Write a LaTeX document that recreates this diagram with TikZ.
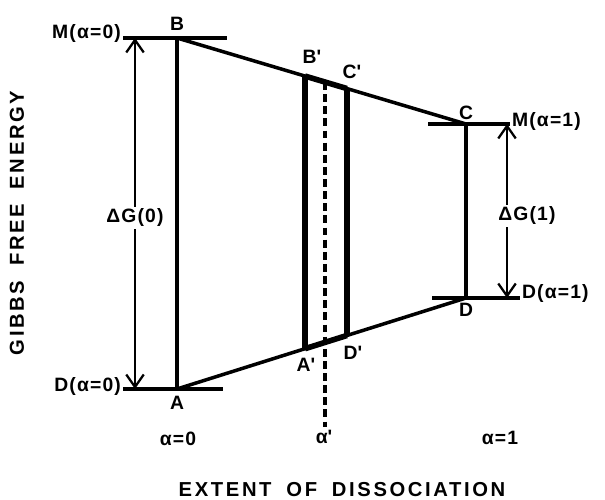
\documentclass[tikz,border=0pt]{standalone}
\usepackage{fontspec}
\setmainfont{Liberation Sans}
\newfontfamily\labfont[LetterSpace=6]{Liberation Sans}
\newfontfamily\widefont[LetterSpace=13, WordSpace=1.8]{Liberation Sans}
\usetikzlibrary{arrows.meta, positioning, calc}

\begin{document}
\begin{tikzpicture}[
every node/.style={font=\labfont\bfseries\fontsize{11}{13}\selectfont, inner sep=1pt},
level/.style={line width=2pt},
wall/.style={line width=3.2pt},
gap/.style={line width=1.3pt, -{Straight Barb[length=2.5mm, width=3.5mm]}},
axis/.style={font=\widefont\bfseries\fontsize{11.5}{14}\selectfont}
]
\useasboundingbox (0,0) rectangle (12.1,10);

% state points
\coordinate (B) at (3.54,9.24);
\coordinate (A) at (3.54,2.22);
\coordinate (C) at (9.32,7.52);
\coordinate (D) at (9.32,4.04);

\coordinate (Bp) at ($(B)!0.443!(C)$);
\coordinate (Cp) at ($(B)!0.588!(C)$);
\coordinate (Ap) at ($(A)!0.443!(D)$);
\coordinate (Dp) at ($(A)!0.588!(D)$);
\coordinate (Ep) at ($(B)!0.512!(C)$);
\coordinate (Fp) at (Ep |- 0,1.46);

% level ticks
\coordinate (M0l) at (2.46,9.24);
\coordinate (M0r) at (4.54,9.24);
\coordinate (D0l) at (2.46,2.22);
\coordinate (D0r) at (4.46,2.22);
\coordinate (M1l) at (8.56,7.52);
\coordinate (M1r) at (10.2,7.52);
\coordinate (D1l) at (8.64,4.04);
\coordinate (D1r) at (10.4,4.04);

\draw[level] (M0l) -- (M0r);
\draw[level] (D0l) -- (D0r);
\draw[level] (M1l) -- (M1r);
\draw[level] (D1l) -- (D1r);

\draw[level] (B) -- (C);
\draw[level] (A) -- (D);
\draw[level] (A) -- (B);
\draw[level] (D) -- (C);

\draw[wall] (Bp) -- (Cp);
\draw[wall] (Ap) -- (Dp);
\draw[wall] (Ap) -- (Bp);
\draw[wall] (Dp) -- (Cp);
\draw[line width=2pt, dash pattern=on 4.5pt off 2.4pt] (Ep) -- (Fp);

% point labels
\node (lB) [above=3pt of B] {B};
\node (lA) [below=3pt of A] {A};
\node (lC) [above=1pt of C] {C};
\node (lD) [below=2pt of D] {D};
\node (lBp) at (6.24,8.86) {B\textquotesingle};
\node (lCp) at (7.04,8.56) {C\textquotesingle};
\node (lAp) at (6.12,2.7) {A\textquotesingle};
\node (lDp) at (7.06,2.94) {D\textquotesingle};

% level labels
\node (M0) [anchor=east] at ($(M0l)+(0,0.08)$) {M(α=0)};
\node (D0) [anchor=east] at ($(D0l)+(0,0.05)$) {D(α=0)};
\node (M1) [anchor=west] at ($(M1r)+(0,0.04)$) {M(α=1)};
\node (D1) [anchor=west] at ($(D1r)+(0,0.08)$) {D(α=1)};

% energy gaps
\node (G0) at (2.7,5.64) {ΔG(0)};
\node (G1) at (10.54,5.68) {ΔG(1)};
\coordinate (G0t) at (2.7,9.24);
\coordinate (G0b) at (2.7,2.22);
\coordinate (G1t) at (10.14,7.52);
\coordinate (G1b) at (10.14,4.04);
\draw[gap] (G0) -- (G0t);
\draw[gap] (G0) -- (G0b);
\draw[gap] (G1.north -| G1t) -- (G1t);
\draw[gap] (G1.south -| G1b) -- (G1b);

% extent values
\node (a0) at (3.56,1.22) {α=0};
\node (ap) at (6.48,1.26) {α\textquotesingle};
\node (a1) at (10.0,1.24) {α=1};

% axes
\node[axis] (xlab) at (6.84,0.2) {EXTENT OF DISSOCIATION};
\node[axis, rotate=90] (ylab) at (0.34,5.54) {GIBBS FREE ENERGY};

\end{tikzpicture}
\end{document}
